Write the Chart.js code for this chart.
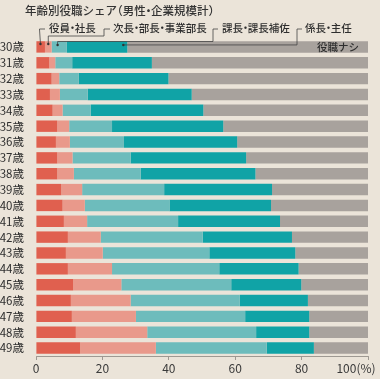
<!DOCTYPE html>
<html><head><meta charset="utf-8">
<script src="https://cdn.jsdelivr.net/npm/chart.js@4.4.1/dist/chart.umd.min.js"></script>
<style>
html,body{margin:0;padding:0;background:#ebe4d9;}
#wrap{width:380px;height:379px;position:relative;}
</style></head><body>
<div id="wrap"><canvas id="c" width="380" height="379"></canvas></div>
<script>
const title = "年齢別役職シェア（男性・企業規模計）";
const ages = ["30歳","31歳","32歳","33歳","34歳","35歳","36歳","37歳","38歳","39歳","40歳","41歳","42歳","43歳","44歳","45歳","46歳","47歳","48歳","49歳"];
const seriesNames = ["役員・社長","次長・部長・事業部長","課長・課長補佐","係長・主任","役職ナシ"];
const executives = [2.7,4.0,4.7,4.2,5.0,6.4,6.0,6.4,6.4,7.6,8.0,8.4,9.6,9.0,9.6,11.2,10.5,10.8,12.0,13.3];
const directors  = [2.0,1.8,2.3,3.0,3.0,3.6,4.2,4.6,5.0,6.3,6.7,7.0,9.9,11.1,13.3,14.5,18.0,19.3,21.5,22.8];
const managers   = [4.6,5.1,5.9,8.4,8.5,12.9,16.3,17.5,20.1,24.7,25.5,27.4,30.7,32.1,32.3,33.1,32.9,32.9,32.8,33.4];
const chiefs     = [18.2,24.0,27.0,31.3,33.9,33.5,34.1,34.8,34.6,32.5,30.6,30.7,26.9,25.9,23.9,21.1,20.5,19.3,16.0,14.2];
const noTitle    = [72.5,65.1,60.1,53.1,49.6,43.6,39.4,36.7,33.9,28.9,29.2,26.5,22.9,21.9,20.9,20.1,18.1,17.7,17.7,16.3];
const xTicks = [0,20,40,60,80,100];
const xTickLabels = ["0","20","40","60","80","100(%)"];

const colors = ["#e0604f","#e9998b","#6dbcbc","#10a3a6","#a8a29d"];
const FONT = '"Noto Sans CJK JP","Noto Sans",sans-serif';

// draws CJK text with proportional (half-width) punctuation
function drawText(ctx, text, x, y, size){
  ctx.textAlign = 'left';
  let cx = x;
  for (const ch of text){
    if (ch === '（'){ ctx.fillText(ch, cx - size*0.5, y); cx += size*0.5; }
    else if (ch === '）'){ ctx.fillText(ch, cx, y); cx += size*0.5; }
    else if (ch === '・'){ ctx.fillText(ch, cx - size*0.27, y); cx += size*0.46; }
    else { ctx.fillText(ch, cx, y); cx += ctx.measureText(ch).width; }
  }
}

const overlay = {
  id:'overlay',
  beforeDraw(chart){
    const ctx = chart.ctx;
    ctx.save();
    ctx.fillStyle = '#ebe4d9';
    ctx.fillRect(0,0,chart.width,chart.height);
    ctx.restore();
  },
  afterDraw(chart){
    const ctx = chart.ctx;
    const xs = chart.scales.x, ys = chart.scales.y;
    ctx.save();
    // title
    ctx.fillStyle = '#333';
    ctx.font = '500 11.5px ' + FONT;
    ctx.textBaseline = 'middle';
    drawText(ctx, title, 25, 11, 11.5);
    // x tick labels
    ctx.font = '12px ' + FONT;
    ctx.fillStyle = '#3a3a3a';
    ctx.textAlign = 'center';
    xTicks.forEach((v,i)=>{
      let px = xs.getPixelForValue(v);
      if (i === xTicks.length-1) px -= 12;
      ctx.fillText(xTickLabels[i], px, 368);
    });
    // 役職ナシ label inside first gray bar
    const y0 = ys.getPixelForValue(0);
    ctx.font = '500 10.5px ' + FONT;
    ctx.textAlign = 'right';
    ctx.fillStyle = '#2e2e2e';
    ctx.fillText(seriesNames[4], xs.getPixelForValue(100) - 9, y0 + 0.5);
    // leader lines and labels
    const c1 = executives[0], c2 = c1 + directors[0], c3 = c2 + managers[0], c4 = c3 + chiefs[0];
    const d1 = xs.getPixelForValue(c1/2);
    const d2 = xs.getPixelForValue((c1+c2)/2);
    const d3 = xs.getPixelForValue(c2) + 6;
    const d4 = xs.getPixelForValue(c4) - 4;
    const dy = y0 - 3;
    ctx.strokeStyle = '#444';
    ctx.lineWidth = 0.8;
    ctx.beginPath();
    ctx.moveTo(d1, dy); ctx.lineTo(d1 - 1, 29); ctx.lineTo(45, 29);
    ctx.moveTo(d2, dy); ctx.lineTo(d2, 36); ctx.lineTo(104, 36); ctx.lineTo(104, 29); ctx.lineTo(110, 29);
    ctx.moveTo(d3, dy + 1); ctx.lineTo(d3, 41.5); ctx.lineTo(213, 41.5); ctx.lineTo(213, 29); ctx.lineTo(218, 29);
    ctx.moveTo(d4, dy + 1); ctx.lineTo(297, dy + 1); ctx.lineTo(297, 29); ctx.lineTo(302, 29);
    ctx.stroke();
    ctx.fillStyle = '#333';
    [[d1,dy],[d2,dy],[d3,dy+1],[d4,dy+1]].forEach(p=>{
      ctx.beginPath(); ctx.arc(p[0], p[1], 1.2, 0, Math.PI*2); ctx.fill();
    });
    ctx.font = '500 10.5px ' + FONT;
    ctx.fillStyle = '#2e2e2e';
    drawText(ctx, seriesNames[0], 49, 28, 10.5);
    drawText(ctx, seriesNames[1], 113, 28, 10.5);
    drawText(ctx, seriesNames[2], 222, 28, 10.5);
    drawText(ctx, seriesNames[3], 305, 28, 10.5);
    ctx.restore();
  }
};

const dataSets = [executives, directors, managers, chiefs, noTitle].map((d,i)=>({
  label: seriesNames[i],
  data: d,
  backgroundColor: colors[i],
  borderWidth: 0,
  barPercentage: 0.72,
  categoryPercentage: 1.0
}));

new Chart(document.getElementById('c'), {
  type: 'bar',
  data: { labels: ages, datasets: dataSets },
  options: {
    indexAxis: 'y',
    responsive: false,
    animation: false,
    devicePixelRatio: 1,
    layout: { padding: { top: 39, right: 12, left: 0, bottom: 0 } },
    plugins: { legend: { display: false }, tooltip: { enabled: false }, title: { display: false } },
    scales: {
      x: {
        stacked: true, min: 0, max: 100,
        afterBuildTicks(s){ s.ticks = xTicks.map(v=>({value:v})); },
        ticks: { display: false },
        grid: { display: true, drawOnChartArea: false, drawTicks: true, tickLength: 4, color: '#8a8580', lineWidth: 0.8 },
        border: { display: true, color: '#8a8580', width: 0.8 },
        afterFit(s){ s.height = 23; }
      },
      y: {
        stacked: true,
        ticks: { color: '#2e2e2e', font: { family: FONT, size: 11.5 }, padding: 4, autoSkip: false },
        grid: { display: false },
        border: { display: false },
        afterFit(s){ s.width = 36; }
      }
    }
  },
  plugins: [overlay]
});
</script>
</body></html>
